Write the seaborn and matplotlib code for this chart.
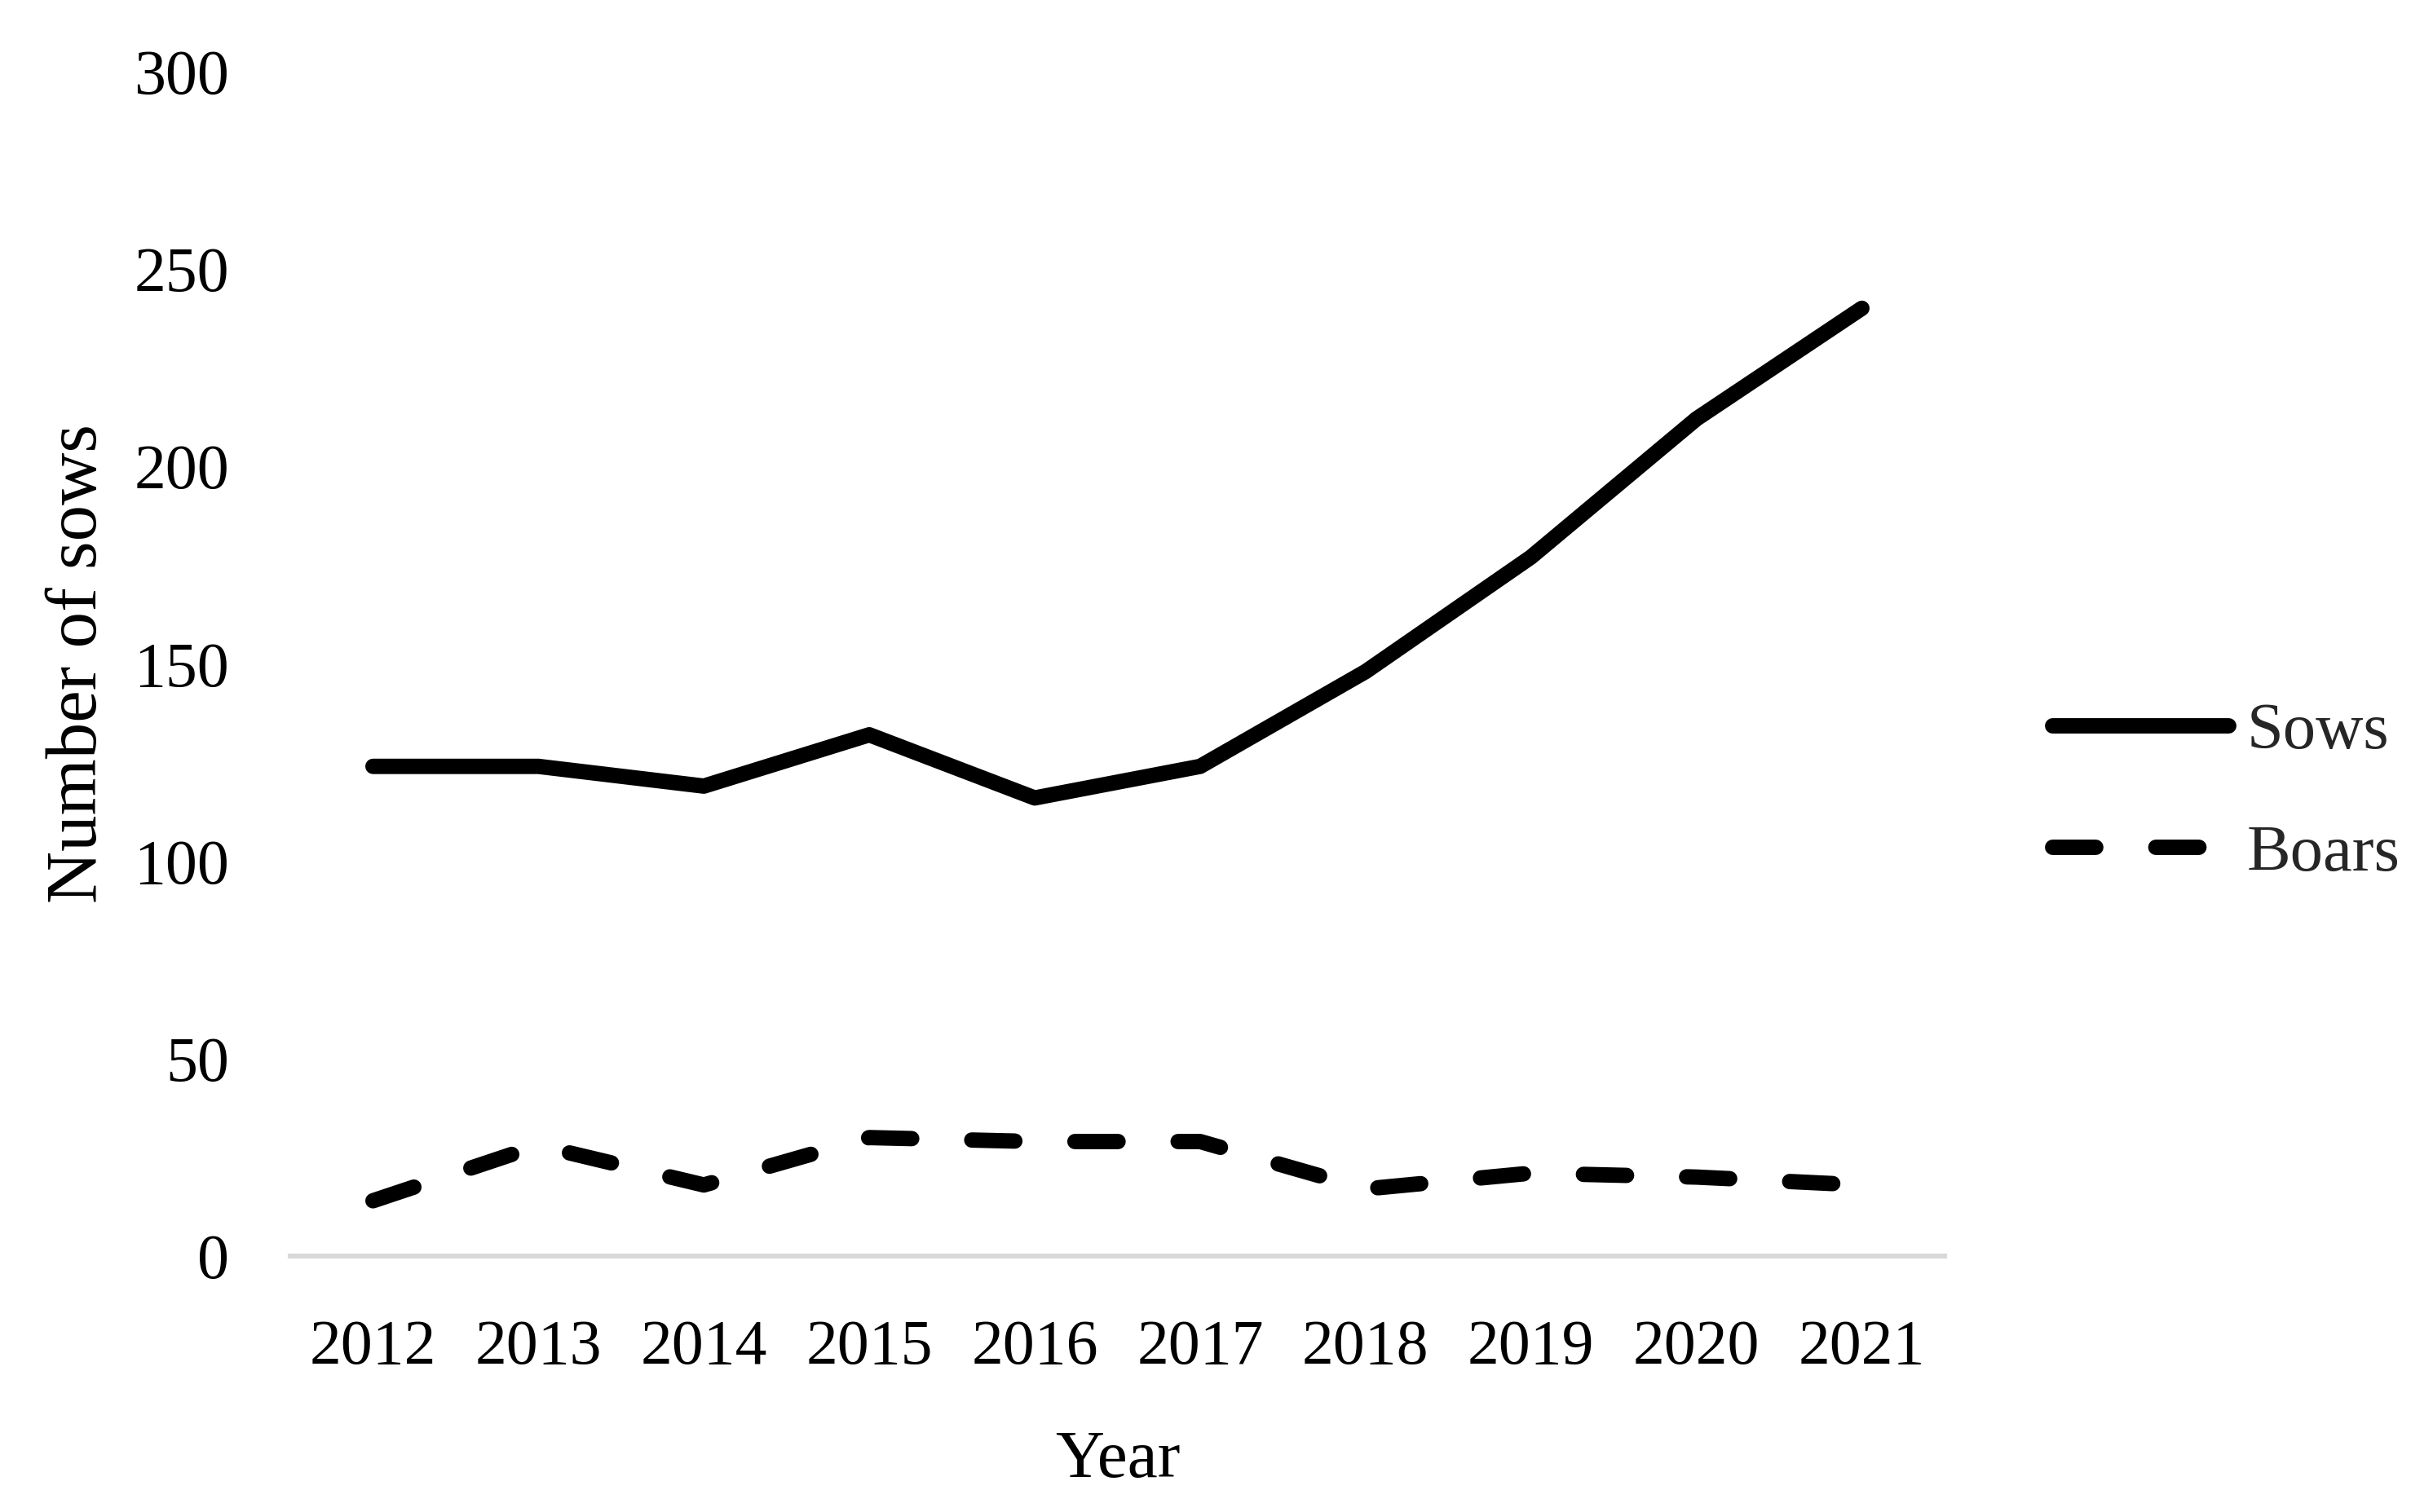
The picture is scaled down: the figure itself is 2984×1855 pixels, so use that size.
import matplotlib
matplotlib.use("Agg")
import matplotlib.pyplot as plt
import seaborn as sns
import pandas as pd

years = [2012, 2013, 2014, 2015, 2016, 2017, 2018, 2019, 2020, 2021]
sows = [124, 124, 119, 132, 116, 124, 148, 177, 212, 240]
boars = [14, 28, 18, 30, 29, 29, 17, 21, 20, 18]
series_names = ["Sows", "Boars"]
y_ticks = [0, 50, 100, 150, 200, 250, 300]

sns.set_theme(style="white")
plt.rcParams["font.family"] = ["Liberation Serif", "DejaVu Serif"]

df = pd.DataFrame({
    "Year": years * 2,
    "Value": sows + boars,
    "Series": [series_names[0]] * len(years) + [series_names[1]] * len(years),
})

W, H, DPI = 2984, 1855, 200
fig = plt.figure(figsize=(W / DPI, H / DPI), dpi=DPI)
fig.patch.set_facecolor("white")
ax = fig.add_axes([356 / W, 1 - 1541 / H, (2385 - 356) / W, (1541 - 87.5) / H])

lw = 6.8
sns.lineplot(data=df, x="Year", y="Value", style="Series",
             dashes={"Sows": "", "Boars": (2.8, 3.9)},
             color="black", linewidth=lw, ax=ax, legend=True)

for ln in ax.get_lines():
    ln.set_solid_capstyle("round")
    ln.set_dash_capstyle("round")
    ln.set_solid_joinstyle("round")
    ln.set_dash_joinstyle("round")

ax.set_xlim(years[0] - 0.5, years[-1] + 0.5)
ax.set_ylim(0, 300)
ax.set_xticks(years)
ax.set_xticklabels([str(y) for y in years])
ax.set_yticks(y_ticks)
ax.tick_params(axis="both", length=0, labelsize=28, colors="black")
ax.tick_params(axis="y", pad=27)
ax.tick_params(axis="x", pad=28)
ax.grid(False)
for s in ["top", "right", "left"]:
    ax.spines[s].set_visible(False)
ax.spines["bottom"].set_color("#d9d9d9")
ax.spines["bottom"].set_linewidth(2.2)

ax.set_xlabel("Year", fontsize=30, color="black")
ax.set_ylabel("Number of sows", fontsize=32, color="black")
ax.xaxis.set_label_coords(0.5, -0.147)
ax.yaxis.set_label_coords(-0.108, 0.5)

handles, labels = ax.get_legend_handles_labels()
ax.get_legend().remove()
leg = fig.legend(handles, labels, loc="center left",
                 bbox_to_anchor=(2517 / W, 1 - 973 / H),
                 frameon=False, fontsize=29, handlelength=2.68,
                 handletextpad=0.28, labelspacing=0.95,
                 borderpad=0, borderaxespad=0)
for ln in leg.get_lines():
    ln.set_linewidth(lw)
    ln.set_solid_capstyle("round")
    ln.set_dash_capstyle("round")
    ln.set_color("black")

fig.savefig("out.png", dpi=DPI, facecolor="white")
